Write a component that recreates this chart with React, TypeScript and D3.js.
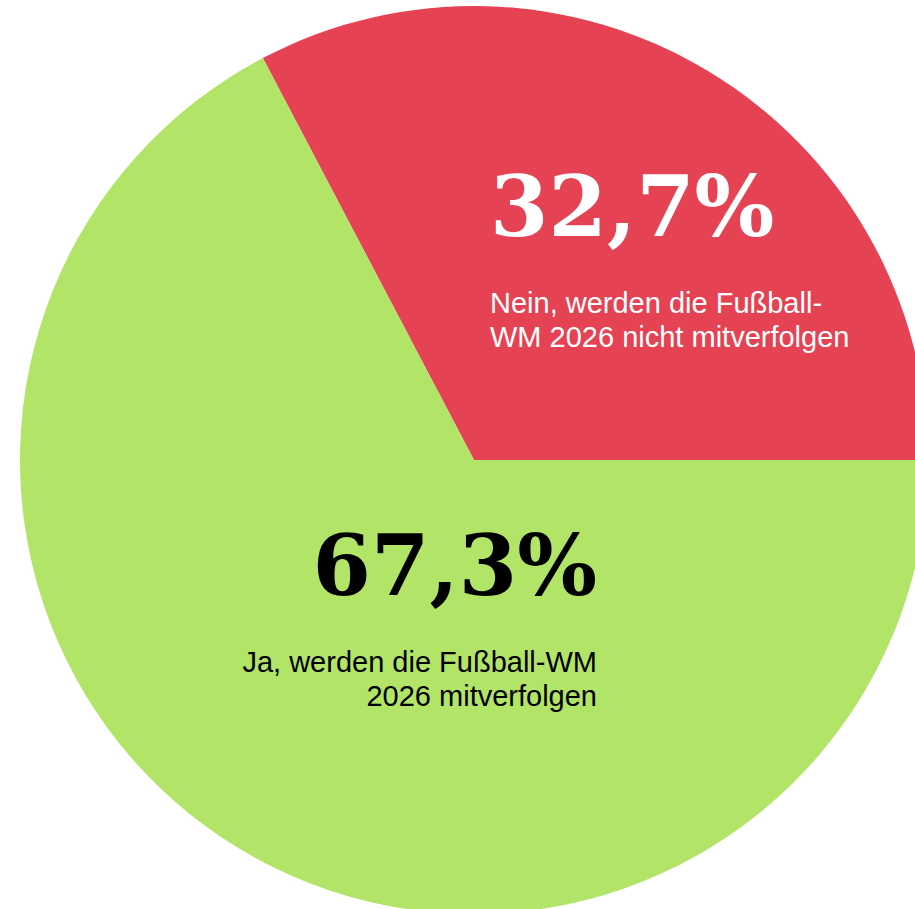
import React, { useEffect, useRef } from 'react';
import * as d3 from 'd3';

// Umfrage: Fußball-WM 2026 mitverfolgen?
const categories = ['Nein', 'Ja'];
const shares = [32.7, 67.3];
const valueLabels = ['32,7%', '67,3%'];
const descLines = [
  ['Nein, werden die Fußball-', 'WM 2026 nicht mitverfolgen'],
  ['Ja, werden die Fußball-WM', '2026 mitverfolgen'],
];
const colors = ['#e54253', '#b2e468'];
const textColors = ['#ffffff', '#000000'];

const W = 915;
const H = 909;

const App = () => {
  const ref = useRef<SVGSVGElement | null>(null);

  useEffect(() => {
    const svg = d3.select(ref.current);
    svg.selectAll('*').remove();

    const cx = 474;
    const cy = 460;
    const radius = 454;

    const total = d3.sum(shares);
    // red slice ends at 3 o'clock
    const start = Math.PI / 2 - (2 * Math.PI * shares[0]) / total;

    const pie = d3
      .pie<number>()
      .sort(null)
      .value((d) => d)
      .startAngle(start)
      .endAngle(start + 2 * Math.PI);

    const arc = d3.arc<d3.PieArcDatum<number>>().innerRadius(0).outerRadius(radius);

    const g = svg.append('g').attr('transform', `translate(${cx},${cy})`);

    g.selectAll('path')
      .data(pie(shares))
      .enter()
      .append('path')
      .attr('d', arc)
      .attr('fill', (_, i) => colors[i]);

    // label placement relative to the centre
    const labelPos = [
      { x: 16, y: -224, anchor: 'start' },
      { x: 123, y: 135, anchor: 'end' },
    ];

    categories.forEach((c, i) => {
      const p = labelPos[i];
      const lg = g.append('g').attr('class', `label-${c}`);
      lg.append('text')
        .attr('x', p.x)
        .attr('y', p.y)
        .attr('text-anchor', p.anchor)
        .attr('font-family', '"DejaVu Serif", serif')
        .attr('font-weight', 'bold')
        .attr('font-size', 84)
        .attr('fill', textColors[i])
        .text(valueLabels[i]);
      descLines[i].forEach((line, j) => {
        lg.append('text')
          .attr('x', p.x)
          .attr('y', p.y + 77 + j * 34)
          .attr('text-anchor', p.anchor)
          .attr('font-family', '"Liberation Sans", Arial, sans-serif')
          .attr('font-size', 29)
          .attr('fill', textColors[i])
          .text(line);
      });
    });
  }, []);

  return (
    <svg
      ref={ref}
      width={W}
      height={H}
      style={{ position: 'absolute', left: 0, top: 0, overflow: 'hidden' }}
    />
  );
};

export default App;
